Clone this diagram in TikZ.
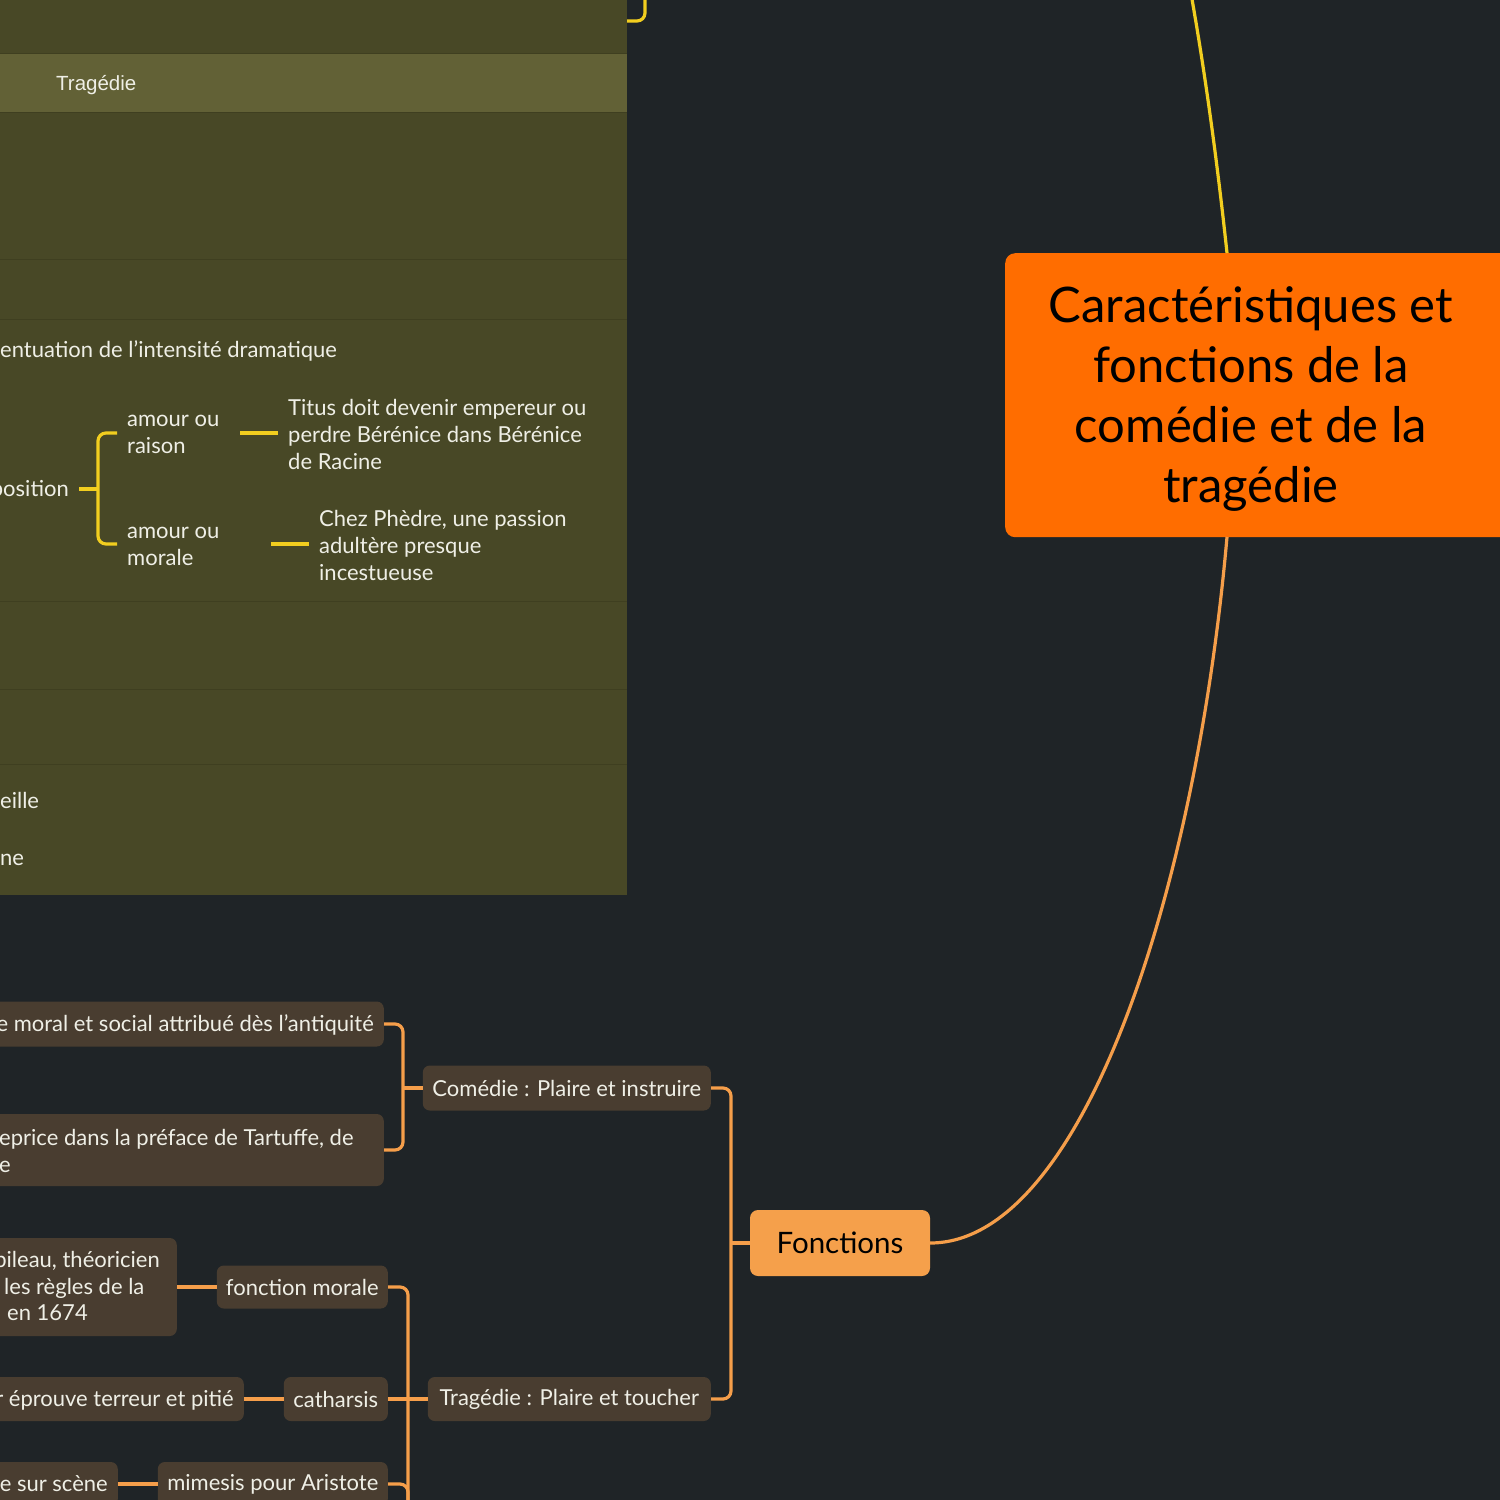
\documentclass[tikz,border=0pt]{standalone}
\usepackage{fontspec}
\setmainfont{Lato}
\newfontfamily\arialf{Liberation Sans}
\definecolor{bgc}{HTML}{1F2427}
\definecolor{panelc}{HTML}{484826}
\definecolor{headc}{HTML}{626136}
\definecolor{sepc}{HTML}{3F3F20}
\definecolor{yel}{HTML}{F2CE1F}
\definecolor{orl}{HTML}{F59E4A}
\definecolor{boxc}{HTML}{493D30}
\definecolor{fonc}{HTML}{F5A04B}
\definecolor{centc}{HTML}{FF6D00}
\definecolor{txc}{HTML}{EFEFE6}
\tikzset{
  txt/.style={font=\fontsize{22}{27}\selectfont, text=txc, inner sep=0pt, align=left},
  brbox/.style={fill=boxc, rounded corners=7pt, inner sep=0pt, font=\fontsize{22}{27}\selectfont, text=txc},
  oline/.style={draw=orl, line width=3.2pt, rounded corners=8pt},
  yline/.style={draw=yel, line width=3.2pt, rounded corners=8pt},
}
\begin{document}
\begin{tikzpicture}[x=1pt,y=-1pt]
\useasboundingbox (0,0) rectangle (1500,1500);
\clip (0,0) rectangle (1500,1500);
\fill[bgc] (-10,-10) rectangle (1510,1510);
% panel
\fill[panelc] (-10,-10) rectangle (627,895);
\fill[headc] (-10,53) rectangle (627,112);
\foreach \yy in {53,112,259,319,601,689,764} \draw[sepc, line width=1pt] (-10,\yy) -- (627,\yy);
\node[txt, anchor=mid west, font=\arialf\fontsize{20.5}{24}\selectfont] (hdr) at (56,88) {Tragédie};
\node[txt, anchor=mid west] (acc) at (0,355) {entuation de l'intensité dramatique};
\node[txt, anchor=mid east] (opp) at (69,494) {position};
\node[txt, anchor=west] (ar) at (127,434) {amour ou\\raison};
\node[txt, anchor=west] (titus) at (288,434.5) {Titus doit devenir empereur ou\\perdre Bérénice dans Bérénice\\de Racine};
\node[txt, anchor=west] (am) at (127,546) {amour ou\\morale};
\node[txt, anchor=west] (phed) at (319,545.5) {Chez Phèdre, une passion\\adultère presque\\incestueuse};
\node[txt, anchor=mid west] (eil) at (0,806) {eille};
\node[txt, anchor=mid west] (ne) at (0,863) {ne};
\coordinate (oppe) at (79,489);
\coordinate (arw) at (117,433);
\coordinate (amw) at (117,544);
\draw[yline] (oppe) -- (98,489);
\draw[yline] (arw) -- (98,433) -- (98,544) -- (amw);
\draw[yline] (240,433) -- (278,433);
\draw[yline] (271,544) -- (309,544);
\coordinate (topin) at (627,21);
\draw[yline] (645,-10) -- (645,21) -- (topin);
% central topic
\node[fill=centc, rounded corners=10pt, minimum width=540pt, minimum height=284pt, anchor=north west, inner sep=0pt] (ctbox) at (1005,253) {};
\node[align=center, font=\fontsize{49}{60}\selectfont, text=black, inner sep=0pt] (ct) at (1251,399) {Caractéristiques et\\fonctions de la\\comédie et de la\\tragédie};
\coordinate (ctn) at (1227,253);
\coordinate (cts) at (1227,537);
\coordinate (ytop) at (1190,-12);
\draw[yel, line width=3.2pt] (ctn) .. controls (1216,150) and (1203,60) .. (ytop);
% Fonctions
\node[fill=fonc, rounded corners=8pt, minimum width=180pt, minimum height=66pt, inner sep=0pt, font=\fontsize{29.5}{32}\selectfont, text=black] (fon) at (840,1243) {Fonctions};
\draw[orl, line width=3.2pt] (cts) .. controls (1195,900) and (1080,1243) .. (fon.east);
% second level
\node[brbox, minimum width=288pt, minimum height=45pt, anchor=east] (com) at (711,1088) {Comédie : Plaire et instruire};
\node[brbox, minimum width=283pt, minimum height=44pt, anchor=east] (trg) at (711,1399) {Tragédie : Plaire et toucher};
\draw[oline] (fon.west) -- (731,1243);
\draw[oline] (com.east) -- (731,1088) -- (731,1399) -- (trg.east);
% comedie children
\node[brbox, minimum width=420pt, minimum height=45pt, anchor=east] (ca) at (384,1024) {};
\node[brbox, minimum width=420pt, minimum height=72pt, anchor=east] (cb) at (384,1150) {};
\node[txt, anchor=mid east] (cat) at (374,1029) {e moral et social attribué dès l'antiquité};
\node[txt, anchor=west] (cbt) at (-1,1151) {eprice dans la préface de Tartuffe, de\\e};
\draw[oline] (com.west) -- (403,1088);
\draw[oline] (ca.east) -- (403,1024) -- (403,1150) -- (cb.east);
% tragedie children
\node[brbox, minimum width=171pt, minimum height=43pt, anchor=east] (fm) at (388,1287) {fonction morale};
\node[brbox, minimum width=104pt, minimum height=44pt, anchor=east] (cath) at (388,1399) {catharsis};
\node[brbox, minimum width=230pt, minimum height=44pt, anchor=east] (mim) at (388,1484) {mimesis pour Aristote};
\draw[oline] (trg.west) -- (408,1399);
\draw[oline] (fm.east) -- (408,1287) -- (408,1520);
\draw[oline] (cath.east) -- (408,1399);
\draw[oline] (mim.east) -- (408,1484) -- (408,1520);
% leaves
\node[brbox, minimum width=300pt, minimum height=98pt, anchor=east] (bo) at (177,1287) {};
\node[txt, anchor=mid east] (bo1) at (160,1265) {bileau, théoricien};
\node[txt, anchor=mid west] (bo2) at (4,1292) {les règles de la};
\node[txt, anchor=mid west] (bo3) at (7,1318) {en 1674};
\node[brbox, minimum width=300pt, minimum height=44pt, anchor=east] (ep) at (244,1399) {};
\node[txt, anchor=mid east] (ept) at (234,1404) {r éprouve terreur et pitié};
\node[brbox, minimum width=300pt, minimum height=44pt, anchor=east] (sc) at (118,1484) {};
\node[txt, anchor=mid east] (sct) at (108,1489) {e sur scène};
\draw[oline] (bo.east) -- (fm.west);
\draw[oline] (ep.east) -- (cath.west);
\draw[oline] (sc.east) -- (mim.west);
\end{tikzpicture}
\end{document}
